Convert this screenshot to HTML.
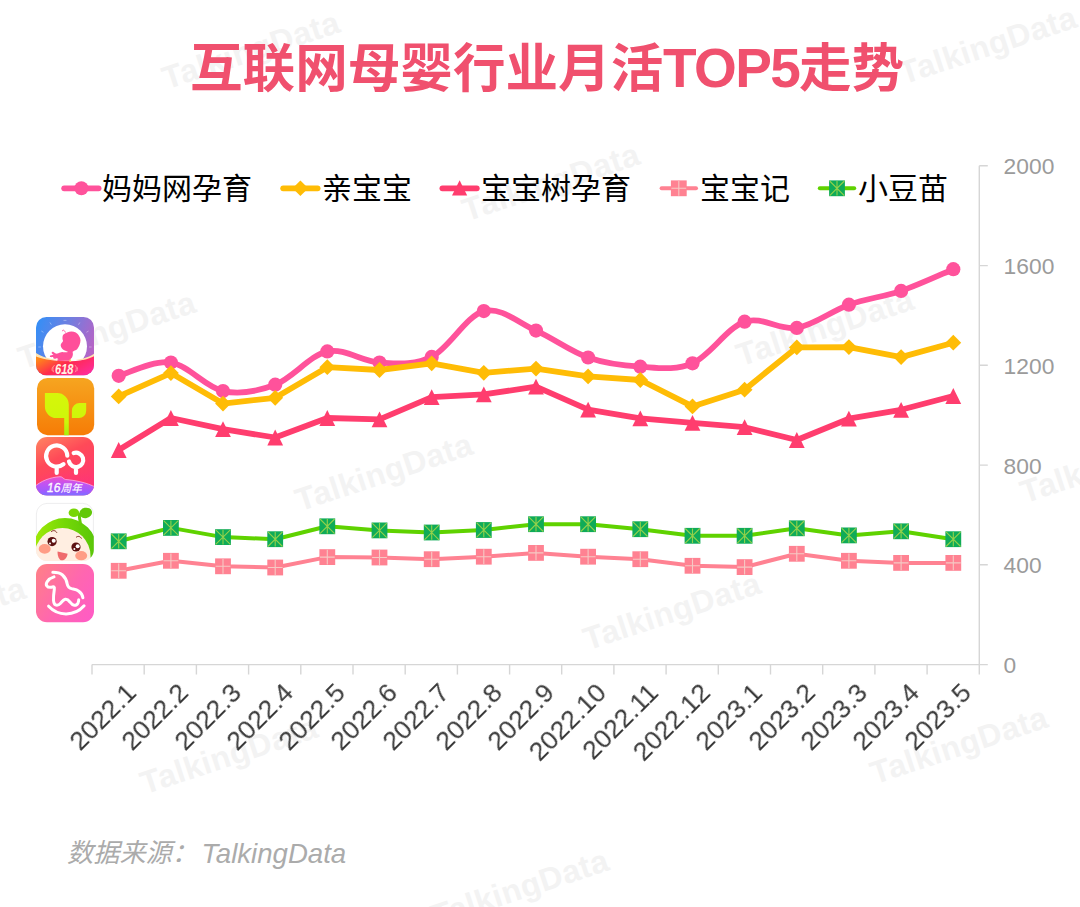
<!DOCTYPE html>
<html lang="zh"><head><meta charset="utf-8"><title>互联网母婴行业月活TOP5走势</title>
<style>
html,body{margin:0;padding:0;background:#fff;width:1080px;height:907px;overflow:hidden}
#page{width:1080px;height:907px;position:relative;overflow:hidden;background:#fff;font-family:"Liberation Sans",sans-serif}
.abs{position:absolute;display:block;overflow:visible}
.wm{position:absolute;width:230px;height:44px;line-height:44px;text-align:center;font-size:32px;font-weight:bold;color:#f3f3f3;transform:rotate(-18.3deg);white-space:nowrap;letter-spacing:.5px}
.top5{position:absolute;left:663px;top:41.2px;font-weight:bold;color:#f0506e;font-size:55px;line-height:55px;height:55px;white-space:nowrap;letter-spacing:-1.6px}
.xl{position:absolute;width:120px;text-align:right;font-size:26.6px;line-height:26.6px;height:26.6px;color:#3a3a3a;transform-origin:100% 100%;transform:rotate(-45deg);white-space:nowrap;will-change:transform}
.yl{position:absolute;left:1003.6px;font-size:22.8px;line-height:26px;height:26px;color:#9b9b9b;white-space:nowrap}
.src{position:absolute;left:201.5px;top:838px;font-size:27.6px;line-height:32px;font-style:italic;color:#ababab;white-space:nowrap}
</style></head><body><div id="page">
<div class="wm" style="left:136px;top:28px">TalkingData</div>
<div class="wm" style="left:873px;top:23px">TalkingData</div>
<div class="wm" style="left:436px;top:160px">TalkingData</div>
<div class="wm" style="left:-8px;top:308px">TalkingData</div>
<div class="wm" style="left:710px;top:305px">TalkingData</div>
<div class="wm" style="left:269px;top:450px">TalkingData</div>
<div class="wm" style="left:994px;top:442px">TalkingData</div>
<div class="wm" style="left:-178px;top:594px">TalkingData</div>
<div class="wm" style="left:557px;top:589px">TalkingData</div>
<div class="wm" style="left:114px;top:733px">TalkingData</div>
<div class="wm" style="left:844px;top:723px">TalkingData</div>
<div class="wm" style="left:405px;top:866px">TalkingData</div>
<svg class="abs" role="img" aria-label="互联网母婴行业月活" width="473.4" height="56.8" viewBox="0 0 473.4 56.8" style="left:189.6px;top:39.4px"><title>互联网母婴行业月活</title><text x="0" y="48.4" font-family="'Liberation Sans','Noto Sans CJK SC',sans-serif" font-weight="bold" font-size="52.6" fill="#f0506e">互联网母婴行业月活</text></svg>
<div class="top5">TOP5</div>
<svg class="abs" role="img" aria-label="走势" width="105.2" height="56.8" viewBox="0 0 105.2 56.8" style="left:798.6px;top:39.4px"><title>走势</title><text x="0" y="48.4" font-family="'Liberation Sans','Noto Sans CJK SC',sans-serif" font-weight="bold" font-size="52.6" fill="#f0506e">走势</text></svg>
<svg class="abs" width="1080" height="907" viewBox="0 0 1080 907" style="left:0;top:0">
<path d="M92 664.6H979.3M979.3 165.8V674.6M979.3 165.8h8.5M979.3 265.6h8.5M979.3 365.3h8.5M979.3 465.1h8.5M979.3 564.8h8.5M979.3 664.6h8.5M92 664.6v10M144.2 664.6v10M196.4 664.6v10M248.6 664.6v10M300.8 664.6v10M353 664.6v10M405.2 664.6v10M457.4 664.6v10M509.6 664.6v10M561.7 664.6v10M613.9 664.6v10M666.1 664.6v10M718.3 664.6v10M770.5 664.6v10M822.7 664.6v10M874.9 664.6v10M927.1 664.6v10" stroke="#d6d6d6" stroke-width="1.4" fill="none"/>
<path d="M118.7 375.8 C127.4 373.6 153.5 359.9 170.9 362.5 C188.2 365.1 205.6 387.4 223 391.1 C240.4 394.8 257.8 391.3 275.2 384.7 C292.6 378.1 310 355.1 327.3 351.4 C344.7 347.7 362.1 361.6 379.5 362.5 C396.9 363.4 414.3 365.5 431.7 356.9 C449 348.3 466.4 315.5 483.8 311.1 C501.2 306.7 518.6 322.9 536 330.6 C553.4 338.3 570.8 351.5 588.1 357.5 C605.5 363.5 622.9 365.7 640.3 366.7 C657.7 367.7 675.1 370.8 692.5 363.3 C709.8 355.8 727.2 327.6 744.6 321.7 C762 315.8 779.4 330.7 796.8 327.9 C814.2 325.1 831.6 310.9 848.9 304.7 C866.3 298.5 883.7 296.8 901.1 290.9 C918.5 285 944.6 272.8 953.3 269.2" stroke="#ff529b" stroke-width="5.8" fill="none" stroke-linecap="round" stroke-linejoin="round"/>
<g fill="#ff529b"><circle cx="118.7" cy="375.8" r="7.1"/><circle cx="170.9" cy="362.5" r="7.1"/><circle cx="223" cy="391.1" r="7.1"/><circle cx="275.2" cy="384.7" r="7.1"/><circle cx="327.3" cy="351.4" r="7.1"/><circle cx="379.5" cy="362.5" r="7.1"/><circle cx="431.7" cy="356.9" r="7.1"/><circle cx="483.8" cy="311.1" r="7.1"/><circle cx="536" cy="330.6" r="7.1"/><circle cx="588.1" cy="357.5" r="7.1"/><circle cx="640.3" cy="366.7" r="7.1"/><circle cx="692.5" cy="363.3" r="7.1"/><circle cx="744.6" cy="321.7" r="7.1"/><circle cx="796.8" cy="327.9" r="7.1"/><circle cx="848.9" cy="304.7" r="7.1"/><circle cx="901.1" cy="290.9" r="7.1"/><circle cx="953.3" cy="269.2" r="7.1"/></g>
<path d="M118.7 396.4 L170.9 373.1 L223 403.6 L275.2 397.8 L327.3 367.2 L379.5 370 L431.7 363.3 L483.8 372.8 L536 368.6 L588.1 376.4 L640.3 380 L692.5 406.4 L744.6 389.7 L796.8 347.4 L848.9 347.1 L901.1 357.1 L953.3 342.7" stroke="#ffbc05" stroke-width="5.8" fill="none" stroke-linecap="round" stroke-linejoin="round"/>
<g fill="#ffbc05"><path d="M110.8 396.4L118.7 388.5L126.6 396.4L118.7 404.3Z"/><path d="M163 373.1L170.9 365.2L178.8 373.1L170.9 381Z"/><path d="M215.1 403.6L223 395.7L230.9 403.6L223 411.5Z"/><path d="M267.3 397.8L275.2 389.9L283.1 397.8L275.2 405.7Z"/><path d="M319.4 367.2L327.3 359.3L335.2 367.2L327.3 375.1Z"/><path d="M371.6 370L379.5 362.1L387.4 370L379.5 377.9Z"/><path d="M423.8 363.3L431.7 355.4L439.6 363.3L431.7 371.2Z"/><path d="M475.9 372.8L483.8 364.9L491.7 372.8L483.8 380.7Z"/><path d="M528.1 368.6L536 360.7L543.9 368.6L536 376.5Z"/><path d="M580.2 376.4L588.1 368.5L596 376.4L588.1 384.3Z"/><path d="M632.4 380L640.3 372.1L648.2 380L640.3 387.9Z"/><path d="M684.6 406.4L692.5 398.5L700.4 406.4L692.5 414.3Z"/><path d="M736.7 389.7L744.6 381.8L752.5 389.7L744.6 397.6Z"/><path d="M788.9 347.4L796.8 339.5L804.7 347.4L796.8 355.3Z"/><path d="M841 347.1L848.9 339.2L856.8 347.1L848.9 355Z"/><path d="M893.2 357.1L901.1 349.2L909 357.1L901.1 365Z"/><path d="M945.4 342.7L953.3 334.8L961.2 342.7L953.3 350.6Z"/></g>
<path d="M118.7 450 L170.9 418 L223 429.2 L275.2 437.5 L327.3 418 L379.5 419.4 L431.7 397.2 L483.8 394.4 L536 386.7 L588.1 409.7 L640.3 418.3 L692.5 422.8 L744.6 427.2 L796.8 440 L848.9 418.7 L901.1 409.8 L953.3 396" stroke="#ff3d6e" stroke-width="5.8" fill="none" stroke-linecap="round" stroke-linejoin="round"/>
<g fill="#ff3d6e"><path d="M118.7 442.1L126.6 457.9L110.8 457.9Z"/><path d="M170.9 410.1L178.8 425.9L163 425.9Z"/><path d="M223 421.3L230.9 437.1L215.1 437.1Z"/><path d="M275.2 429.6L283.1 445.4L267.3 445.4Z"/><path d="M327.3 410.1L335.2 425.9L319.4 425.9Z"/><path d="M379.5 411.5L387.4 427.3L371.6 427.3Z"/><path d="M431.7 389.3L439.6 405.1L423.8 405.1Z"/><path d="M483.8 386.5L491.7 402.3L475.9 402.3Z"/><path d="M536 378.8L543.9 394.6L528.1 394.6Z"/><path d="M588.1 401.8L596 417.6L580.2 417.6Z"/><path d="M640.3 410.4L648.2 426.2L632.4 426.2Z"/><path d="M692.5 414.9L700.4 430.7L684.6 430.7Z"/><path d="M744.6 419.3L752.5 435.1L736.7 435.1Z"/><path d="M796.8 432.1L804.7 447.9L788.9 447.9Z"/><path d="M848.9 410.8L856.8 426.6L841 426.6Z"/><path d="M901.1 401.9L909 417.7L893.2 417.7Z"/><path d="M953.3 388.1L961.2 403.9L945.4 403.9Z"/></g>
<path d="M118.7 570.8 L170.9 560.8 L223 566.3 L275.2 567.5 L327.3 557.1 L379.5 557.5 L431.7 559.2 L483.8 556.7 L536 552.9 L588.1 556.7 L640.3 559.2 L692.5 565.8 L744.6 567.1 L796.8 553.8 L848.9 560.8 L901.1 562.9 L953.3 562.9" stroke="#ff8292" stroke-width="4" fill="none" stroke-linecap="round" stroke-linejoin="round"/>
<g><rect x="110.8" y="562.9" width="15.8" height="15.8" fill="#ff8292"/><path d="M118.7 563.4V578.2M111.3 570.8H126.1" stroke="#f6c9c4" stroke-width="1.1" fill="none"/><rect x="163" y="552.9" width="15.8" height="15.8" fill="#ff8292"/><path d="M170.9 553.4V568.2M163.5 560.8H178.3" stroke="#f6c9c4" stroke-width="1.1" fill="none"/><rect x="215.1" y="558.4" width="15.8" height="15.8" fill="#ff8292"/><path d="M223 558.9V573.7M215.6 566.3H230.4" stroke="#f6c9c4" stroke-width="1.1" fill="none"/><rect x="267.3" y="559.6" width="15.8" height="15.8" fill="#ff8292"/><path d="M275.2 560.1V574.9M267.8 567.5H282.6" stroke="#f6c9c4" stroke-width="1.1" fill="none"/><rect x="319.4" y="549.2" width="15.8" height="15.8" fill="#ff8292"/><path d="M327.3 549.7V564.5M319.9 557.1H334.7" stroke="#f6c9c4" stroke-width="1.1" fill="none"/><rect x="371.6" y="549.6" width="15.8" height="15.8" fill="#ff8292"/><path d="M379.5 550.1V564.9M372.1 557.5H386.9" stroke="#f6c9c4" stroke-width="1.1" fill="none"/><rect x="423.8" y="551.3" width="15.8" height="15.8" fill="#ff8292"/><path d="M431.7 551.8V566.6M424.3 559.2H439.1" stroke="#f6c9c4" stroke-width="1.1" fill="none"/><rect x="475.9" y="548.8" width="15.8" height="15.8" fill="#ff8292"/><path d="M483.8 549.3V564.1M476.4 556.7H491.2" stroke="#f6c9c4" stroke-width="1.1" fill="none"/><rect x="528.1" y="545" width="15.8" height="15.8" fill="#ff8292"/><path d="M536 545.5V560.3M528.6 552.9H543.4" stroke="#f6c9c4" stroke-width="1.1" fill="none"/><rect x="580.2" y="548.8" width="15.8" height="15.8" fill="#ff8292"/><path d="M588.1 549.3V564.1M580.7 556.7H595.5" stroke="#f6c9c4" stroke-width="1.1" fill="none"/><rect x="632.4" y="551.3" width="15.8" height="15.8" fill="#ff8292"/><path d="M640.3 551.8V566.6M632.9 559.2H647.7" stroke="#f6c9c4" stroke-width="1.1" fill="none"/><rect x="684.6" y="557.9" width="15.8" height="15.8" fill="#ff8292"/><path d="M692.5 558.4V573.2M685.1 565.8H699.9" stroke="#f6c9c4" stroke-width="1.1" fill="none"/><rect x="736.7" y="559.2" width="15.8" height="15.8" fill="#ff8292"/><path d="M744.6 559.7V574.5M737.2 567.1H752" stroke="#f6c9c4" stroke-width="1.1" fill="none"/><rect x="788.9" y="545.9" width="15.8" height="15.8" fill="#ff8292"/><path d="M796.8 546.4V561.2M789.4 553.8H804.2" stroke="#f6c9c4" stroke-width="1.1" fill="none"/><rect x="841" y="552.9" width="15.8" height="15.8" fill="#ff8292"/><path d="M848.9 553.4V568.2M841.5 560.8H856.3" stroke="#f6c9c4" stroke-width="1.1" fill="none"/><rect x="893.2" y="555" width="15.8" height="15.8" fill="#ff8292"/><path d="M901.1 555.5V570.3M893.7 562.9H908.5" stroke="#f6c9c4" stroke-width="1.1" fill="none"/><rect x="945.4" y="555" width="15.8" height="15.8" fill="#ff8292"/><path d="M953.3 555.5V570.3M945.9 562.9H960.7" stroke="#f6c9c4" stroke-width="1.1" fill="none"/></g>
<path d="M118.7 541.3 L170.9 527.9 L223 537.1 L275.2 539.2 L327.3 526.3 L379.5 530.4 L431.7 532.5 L483.8 530 L536 524.2 L588.1 524.2 L640.3 529.2 L692.5 535.8 L744.6 535.8 L796.8 528.3 L848.9 535.4 L901.1 531.3 L953.3 539.2" stroke="#5fd200" stroke-width="4" fill="none" stroke-linecap="round" stroke-linejoin="round"/>
<g><rect x="110.8" y="533.4" width="15.8" height="15.8" fill="#0fab58"/><path d="M118.7 534V548.6M111.4 534L126 548.6M126 534L111.4 548.6" stroke="#93d14a" stroke-width="1.1" fill="none"/><rect x="163" y="520" width="15.8" height="15.8" fill="#0fab58"/><path d="M170.9 520.6V535.2M163.6 520.6L178.2 535.2M178.2 520.6L163.6 535.2" stroke="#93d14a" stroke-width="1.1" fill="none"/><rect x="215.1" y="529.2" width="15.8" height="15.8" fill="#0fab58"/><path d="M223 529.8V544.4M215.7 529.8L230.3 544.4M230.3 529.8L215.7 544.4" stroke="#93d14a" stroke-width="1.1" fill="none"/><rect x="267.3" y="531.3" width="15.8" height="15.8" fill="#0fab58"/><path d="M275.2 531.9V546.5M267.9 531.9L282.5 546.5M282.5 531.9L267.9 546.5" stroke="#93d14a" stroke-width="1.1" fill="none"/><rect x="319.4" y="518.4" width="15.8" height="15.8" fill="#0fab58"/><path d="M327.3 519V533.6M320 519L334.6 533.6M334.6 519L320 533.6" stroke="#93d14a" stroke-width="1.1" fill="none"/><rect x="371.6" y="522.5" width="15.8" height="15.8" fill="#0fab58"/><path d="M379.5 523.1V537.7M372.2 523.1L386.8 537.7M386.8 523.1L372.2 537.7" stroke="#93d14a" stroke-width="1.1" fill="none"/><rect x="423.8" y="524.6" width="15.8" height="15.8" fill="#0fab58"/><path d="M431.7 525.2V539.8M424.4 525.2L439 539.8M439 525.2L424.4 539.8" stroke="#93d14a" stroke-width="1.1" fill="none"/><rect x="475.9" y="522.1" width="15.8" height="15.8" fill="#0fab58"/><path d="M483.8 522.7V537.3M476.5 522.7L491.1 537.3M491.1 522.7L476.5 537.3" stroke="#93d14a" stroke-width="1.1" fill="none"/><rect x="528.1" y="516.3" width="15.8" height="15.8" fill="#0fab58"/><path d="M536 516.9V531.5M528.7 516.9L543.3 531.5M543.3 516.9L528.7 531.5" stroke="#93d14a" stroke-width="1.1" fill="none"/><rect x="580.2" y="516.3" width="15.8" height="15.8" fill="#0fab58"/><path d="M588.1 516.9V531.5M580.8 516.9L595.4 531.5M595.4 516.9L580.8 531.5" stroke="#93d14a" stroke-width="1.1" fill="none"/><rect x="632.4" y="521.3" width="15.8" height="15.8" fill="#0fab58"/><path d="M640.3 521.9V536.5M633 521.9L647.6 536.5M647.6 521.9L633 536.5" stroke="#93d14a" stroke-width="1.1" fill="none"/><rect x="684.6" y="527.9" width="15.8" height="15.8" fill="#0fab58"/><path d="M692.5 528.5V543.1M685.2 528.5L699.8 543.1M699.8 528.5L685.2 543.1" stroke="#93d14a" stroke-width="1.1" fill="none"/><rect x="736.7" y="527.9" width="15.8" height="15.8" fill="#0fab58"/><path d="M744.6 528.5V543.1M737.3 528.5L751.9 543.1M751.9 528.5L737.3 543.1" stroke="#93d14a" stroke-width="1.1" fill="none"/><rect x="788.9" y="520.4" width="15.8" height="15.8" fill="#0fab58"/><path d="M796.8 521V535.6M789.5 521L804.1 535.6M804.1 521L789.5 535.6" stroke="#93d14a" stroke-width="1.1" fill="none"/><rect x="841" y="527.5" width="15.8" height="15.8" fill="#0fab58"/><path d="M848.9 528.1V542.7M841.6 528.1L856.2 542.7M856.2 528.1L841.6 542.7" stroke="#93d14a" stroke-width="1.1" fill="none"/><rect x="893.2" y="523.4" width="15.8" height="15.8" fill="#0fab58"/><path d="M901.1 524V538.6M893.8 524L908.4 538.6M908.4 524L893.8 538.6" stroke="#93d14a" stroke-width="1.1" fill="none"/><rect x="945.4" y="531.3" width="15.8" height="15.8" fill="#0fab58"/><path d="M953.3 531.9V546.5M946 531.9L960.6 546.5M960.6 531.9L946 546.5" stroke="#93d14a" stroke-width="1.1" fill="none"/></g>
<path d="M64.2 188.3H98.6" stroke="#ff529b" stroke-width="5.8" stroke-linecap="round"/><g fill="#ff529b"><circle cx="81.4" cy="188.3" r="7.0"/></g>
<path d="M283.2 188.3H317.6" stroke="#ffbc05" stroke-width="5.8" stroke-linecap="round"/><g fill="#ffbc05"><path d="M292.6 188.3L300.4 180.5L308.2 188.3L300.4 196.1Z"/></g>
<path d="M442.4 188.3H476.8" stroke="#ff3d6e" stroke-width="5.8" stroke-linecap="round"/><g fill="#ff3d6e"><path d="M459.6 180.2L467.2 195.4L452 195.4Z"/></g>
<path d="M661.6 188.3H696" stroke="#ff8292" stroke-width="4" stroke-linecap="round"/><rect x="670.9" y="180.4" width="15.8" height="15.8" fill="#ff8292"/><path d="M678.8 180.9V195.7M671.4 188.3H686.2" stroke="#f6c9c4" stroke-width="1.1" fill="none"/>
<path d="M819.8 188.3H854.2" stroke="#5fd200" stroke-width="4" stroke-linecap="round"/><rect x="829.1" y="180.4" width="15.8" height="15.8" fill="#0fab58"/><path d="M837 181V195.6M829.7 181L844.3 195.6M844.3 181L829.7 195.6" stroke="#93d14a" stroke-width="1.1" fill="none"/>
</svg>
<svg class="abs" role="img" aria-label="妈妈网孕育" width="150" height="32.4" viewBox="0 0 150 32.4" style="left:102.3px;top:170.9px"><title>妈妈网孕育</title><text x="0" y="27.6" font-family="'Liberation Sans','Noto Sans CJK SC',sans-serif" font-size="30" fill="#000">妈妈网孕育</text></svg>
<svg class="abs" role="img" aria-label="亲宝宝" width="90" height="32.4" viewBox="0 0 90 32.4" style="left:321.5px;top:170.9px"><title>亲宝宝</title><text x="0" y="27.6" font-family="'Liberation Sans','Noto Sans CJK SC',sans-serif" font-size="30" fill="#000">亲宝宝</text></svg>
<svg class="abs" role="img" aria-label="宝宝树孕育" width="150" height="32.4" viewBox="0 0 150 32.4" style="left:480.5px;top:170.9px"><title>宝宝树孕育</title><text x="0" y="27.6" font-family="'Liberation Sans','Noto Sans CJK SC',sans-serif" font-size="30" fill="#000">宝宝树孕育</text></svg>
<svg class="abs" role="img" aria-label="宝宝记" width="90" height="32.4" viewBox="0 0 90 32.4" style="left:699.5px;top:170.9px"><title>宝宝记</title><text x="0" y="27.6" font-family="'Liberation Sans','Noto Sans CJK SC',sans-serif" font-size="30" fill="#000">宝宝记</text></svg>
<svg class="abs" role="img" aria-label="小豆苗" width="90" height="32.4" viewBox="0 0 90 32.4" style="left:857.5px;top:170.9px"><title>小豆苗</title><text x="0" y="27.6" font-family="'Liberation Sans','Noto Sans CJK SC',sans-serif" font-size="30" fill="#000">小豆苗</text></svg>
<div class="yl" style="top:153.2px">2000</div>
<div class="yl" style="top:253px">1600</div>
<div class="yl" style="top:352.7px">1200</div>
<div class="yl" style="top:452.5px">800</div>
<div class="yl" style="top:552.2px">400</div>
<div class="yl" style="top:652px">0</div>
<div class="xl" style="left:21.1px;top:671.2px">2022.1</div>
<div class="xl" style="left:73.3px;top:671.2px">2022.2</div>
<div class="xl" style="left:125.5px;top:671.2px">2022.3</div>
<div class="xl" style="left:177.7px;top:671.2px">2022.4</div>
<div class="xl" style="left:229.9px;top:671.2px">2022.5</div>
<div class="xl" style="left:282.1px;top:671.2px">2022.6</div>
<div class="xl" style="left:334.3px;top:671.2px">2022.7</div>
<div class="xl" style="left:386.5px;top:671.2px">2022.8</div>
<div class="xl" style="left:438.6px;top:671.2px">2022.9</div>
<div class="xl" style="left:490.8px;top:671.2px">2022.10</div>
<div class="xl" style="left:543px;top:671.2px">2022.11</div>
<div class="xl" style="left:595.2px;top:671.2px">2022.12</div>
<div class="xl" style="left:647.4px;top:671.2px">2023.1</div>
<div class="xl" style="left:699.6px;top:671.2px">2023.2</div>
<div class="xl" style="left:751.8px;top:671.2px">2023.3</div>
<div class="xl" style="left:804px;top:671.2px">2023.4</div>
<div class="xl" style="left:856.2px;top:671.2px">2023.5</div>
<svg class="abs" role="img" aria-label="妈妈网孕育" width="58" height="58.4" viewBox="0 0 58 58.4" style="left:36.2px;top:316.9px"><title>妈妈网孕育</title>
<defs>
<linearGradient id="a1" x1="0" y1="0.1" x2="1" y2="0.45"><stop offset="0" stop-color="#338ff7"/><stop offset=".5" stop-color="#6f7fe0"/><stop offset="1" stop-color="#b464c6"/></linearGradient>
<linearGradient id="a2" x1="0" y1="0.2" x2="1" y2="0.8"><stop offset="0" stop-color="#ff8a18"/><stop offset=".45" stop-color="#ff2a4c"/><stop offset="1" stop-color="#ff2c9c"/></linearGradient>
<clipPath id="ac"><rect width="58" height="58.4" rx="10.5"/></clipPath>
</defs>
<g clip-path="url(#ac)">
<rect width="58" height="58.4" fill="url(#a1)"/>
<g stroke="#fff" stroke-opacity=".45" stroke-width=".8" fill="none"><path d="M14 5.5l1.3 2.2M43.8 5.5l-1.3 2.2M5.3 14l2.2 1.3M52.6 14l-2.2 1.3M27.5 3.4h3M2.3 30h2.6M53 30h2.6"/></g>
<circle cx="29" cy="29.3" r="22" fill="#fff"/>
<path fill="#ff4f9a" d="M35.5 14.4C37 14.4 38.5 14.8 39.8 15.6C41.1 16.4 42.4 17.9 43.2 19.2C44 20.5 44.5 22.1 44.5 23.6C44.5 25.1 44 26.6 43.5 28C43 29.4 42.2 30.9 41.3 31.9C40.4 32.9 38.7 33.4 37.9 33.9C37.1 34.4 36.9 34.2 36.7 34.8C36.5 35.3 37 36.3 36.9 37.2C36.8 38.1 36.6 39.2 36.2 40.1C35.8 41 34.8 41.8 34.3 42.8C33.8 43.8 35.5 45.5 33.5 46C31.4 46.5 24 46.5 22 46C20 45.5 21.7 43.6 21.6 42.8C21.5 42 21.8 41.4 21.4 41.2C21 41 19.7 41.8 19 41.8C18.3 41.8 17.3 41.4 17 41.1C16.7 40.8 17.7 40.4 17.3 40.2C16.9 40 15.2 40.3 14.6 40.1C14 39.9 13.8 39.2 13.9 38.9C14 38.6 14.5 38.4 15.1 38.2C15.7 38 17.2 38.1 17.3 37.7C17.4 37.3 15.8 36.5 15.6 36C15.4 35.5 15.9 35 16.3 34.9C16.7 34.8 17.2 35 17.8 35.3C18.4 35.6 19.1 36.5 19.9 36.6C20.7 36.8 21.7 36.4 22.4 36.2C23.1 36 23.7 35.7 24.3 35.5C24.9 35.3 25.4 34.9 26.2 34.9C27 34.9 28.3 35.3 29.2 35.3C30.1 35.3 31.4 35.1 31.6 34.9C31.8 34.7 31.2 34.6 30.6 34.3C30 34 29 33.8 28.2 33.3C27.4 32.8 26.6 32.1 26 31.4C25.4 30.7 25 29.6 24.8 28.9C24.6 28.2 24.6 27.8 25 27C25.4 26.2 26.8 25 27 24.1C27.2 23.2 26.5 22.8 26.5 21.7C26.5 20.6 26.4 18.9 27.2 17.8C28 16.8 29.7 16 31.1 15.4C32.5 14.8 34 14.4 35.5 14.4Z"/>
<path d="M29.300 15.200C28.800 14 28.100 13.200 27.100 13.100 26.700 13.100 26.500 13.400 26.500 13.800" stroke="#ff4f9a" stroke-width=".9" fill="none" stroke-linecap="round"/>
<path fill="#ffe3b0" d="M0 35.900C5 39.500 14 42.800 29 43.300 44 43.400 52 40.800 58 36.700V43H0z"/>
<path fill="url(#a2)" d="M0 39.600C5 41.800 14 43.900 29 44.200 44 44.300 52 42.300 58 39.200V58.400H0z"/>
<path fill="#ffcf5c" d="M33.600 42.900c.3-1 .9-1.500 1.100-.5.200.900.300 1.800 0 2.600h-1.300c-.2-.7 0-1.400.2-2.100z"/>
<path d="M18.300 48.400c-1.500 1.900-1.700 4.600-.5 6.900M39.300 48.400c1.400 2.100 1.300 4.800-.3 6.900M16.700 50c-.8 1.200-.9 2.600-.4 4M41 50.100c.7 1.200.6 2.700-.1 3.900" stroke="#ffe9cf" stroke-opacity=".7" stroke-width=".7" fill="none" stroke-linecap="round" stroke-dasharray="1.600 1"/>
<text transform="translate(28.200 57.300) scale(.76 1)" text-anchor="middle" font-family="Liberation Sans, sans-serif" font-weight="bold" font-style="italic" font-size="14.500" fill="#fff4e2">618</text>
</g></svg>
<svg class="abs" role="img" aria-label="亲宝宝" width="57.2" height="57.2" viewBox="0 0 57.2 57.2" style="left:36.7px;top:377.7px"><title>亲宝宝</title>
<defs><linearGradient id="b1" x1="0" y1="0" x2="0" y2="1"><stop offset="0" stop-color="#f6a520"/><stop offset="1" stop-color="#f67c06"/></linearGradient>
<linearGradient id="b2" x1="0" y1="0" x2="0" y2="1"><stop offset="0" stop-color="#d6f60a"/><stop offset=".7" stop-color="#cdf60a"/><stop offset="1" stop-color="#a6f00a"/></linearGradient></defs>
<rect width="57.2" height="57.2" rx="10.500" fill="url(#b1)"/>
<path fill="url(#b2)" d="M7.900 15H20.200A11.600 11.600 0 0 1 31.800 26.600V57.200H27.200V40.100H19.400A11.500 11.500 0 0 1 7.900 28.600ZM34.900 40.100V32.800A7.700 7.700 0 0 1 42.600 25.100H49.200V32.800A7.300 7.300 0 0 1 41.900 40.100Z"/>
</svg>
<svg class="abs" role="img" aria-label="宝宝树孕育 16周年" width="58" height="58.5" viewBox="0 0 58 58.5" style="left:36.3px;top:437.2px"><title>宝宝树孕育 16周年</title>
<defs><linearGradient id="c1" x1="0.1" y1="0" x2="0.6" y2="1"><stop offset="0" stop-color="#ff8060"/><stop offset=".4" stop-color="#ff4a58"/><stop offset="1" stop-color="#ff3574"/></linearGradient>
<linearGradient id="c2" x1="0" y1="0" x2="0" y2="1"><stop offset="0" stop-color="#ef4fc8"/><stop offset=".35" stop-color="#c253f2"/><stop offset=".75" stop-color="#9b5cff"/><stop offset="1" stop-color="#6f7bff"/></linearGradient>
<radialGradient id="c3" cx=".5" cy="1" r=".75"><stop offset="0" stop-color="#ff2d8a" stop-opacity=".55"/><stop offset="1" stop-color="#ff2d8a" stop-opacity="0"/></radialGradient>
<clipPath id="cc"><rect width="58" height="58.5" rx="11"/></clipPath></defs>
<g clip-path="url(#cc)">
<rect width="58" height="58.5" fill="url(#c1)"/>
<rect y="25" width="58" height="33.500" fill="url(#c3)"/>
<path fill="url(#c2)" stroke="#ffc4f2" stroke-opacity=".75" stroke-width=".9" d="M-2 50C5 44 14 40.300 24 39.700 26.500 39.500 27.200 41.900 29.500 42.500 39 43.300 51 45.500 60 50.500V60H-2Z"/>
<path d="M27.500 27.200A10.600 10.600 0 1 1 31.300 18.700M20.700 29.800V36M37.700 16.100A7.200 7.200 0 1 1 33 24.500M40 30.100V36" stroke="#fff" stroke-width="4.200" stroke-linecap="round" fill="none"/>
<text x="11" y="55.300" font-family="Liberation Sans, sans-serif" font-style="italic" font-size="12" fill="#fff" fill-opacity=".95" stroke="#fff" stroke-width=".35">16</text>
<text transform="translate(24.600 54.900) skewX(-14)" x="0" y="0" font-family="'Liberation Sans','Noto Sans CJK SC',sans-serif" font-weight="500" font-size="10.6" fill="#fff" fill-opacity=".95">周年</text>
</g></svg>
<svg class="abs" role="img" aria-label="小豆苗" width="57.8" height="57.9" viewBox="0 0 57.8 57.9" style="left:36.3px;top:502.8px"><title>小豆苗</title>
<defs><linearGradient id="d1" x1="0" y1="0" x2="1" y2="0"><stop offset="0" stop-color="#a2ea08"/><stop offset=".5" stop-color="#74d806"/><stop offset="1" stop-color="#58c40a"/></linearGradient>
<clipPath id="dc"><rect width="57.8" height="57.9" rx="11"/></clipPath></defs>
<rect x=".4" y=".4" width="57" height="57.100" rx="10.600" fill="#fff" stroke="#e9e9ea" stroke-width=".8"/>
<g clip-path="url(#dc)">
<path d="M-3 47A32 32 0 0 1 61 47V54.500H29V47Z" fill="url(#d1)"/>
<path d="M44.600 21.500C44 18.300 43.300 15.500 43.300 11.500" stroke="#66cc08" stroke-width="3" fill="none" stroke-linecap="round"/>
<ellipse cx="37.900" cy="9.700" rx="5.300" ry="4.300" fill="#78d606"/>
<ellipse cx="49.700" cy="9.900" rx="6.400" ry="5.200" transform="rotate(-12 49.700 9.900)" fill="#62c808"/>
<circle cx="26.500" cy="53" r="28" fill="#ffeee1"/>
<ellipse cx="8.700" cy="45.900" rx="6" ry="4.800" fill="#ff9d86"/>
<ellipse cx="45.200" cy="52.700" rx="6" ry="4.600" fill="#ff9d86"/>
<circle cx="16.100" cy="38.600" r="4.600" fill="#5d1212"/><circle cx="17.700" cy="37.700" r="2" fill="#fff"/><circle cx="14" cy="40.400" r="1" fill="#fff"/>
<circle cx="40" cy="44" r="4.600" fill="#5d1212"/><circle cx="41.700" cy="43.300" r="2" fill="#fff"/><circle cx="38.400" cy="46" r="1" fill="#fff"/>
<path d="M15.300 28.600C17 26.900 19.500 27.300 20.700 29.400M40.300 34.200C41.900 32.700 44.200 33.200 45.300 35.200" stroke="#7a2a1a" stroke-width="1" fill="none" stroke-linecap="round"/>
<path d="M21.600 48.400 31.600 50.700C31.300 54.300 28.800 57.500 25.700 57.300 23 57.100 21.300 52.500 21.600 48.400Z" fill="#ef6a6c"/>
</g></svg>
<svg class="abs" role="img" aria-label="宝宝记" width="58" height="58.2" viewBox="0 0 58 58.2" style="left:36.3px;top:564px"><title>宝宝记</title>
<defs><linearGradient id="e1" x1="0" y1="0.15" x2="1" y2="0.85"><stop offset="0" stop-color="#ff7e8a"/><stop offset=".55" stop-color="#ff66b0"/><stop offset="1" stop-color="#ff5cc4"/></linearGradient></defs>
<rect width="58" height="58.2" rx="11" fill="url(#e1)"/>
<g stroke="#fff" stroke-width="3" fill="none" stroke-linecap="round" stroke-linejoin="round">
<path d="M16.800 8.300C21 8.300 24.200 9 26.500 11 29.200 13.300 30.600 16.400 31.200 20 31.700 23 33.600 24.300 36.300 24.900 38.600 25.400 40.800 25.700 42.800 27.200 45 28.800 46.500 31 46.900 33.700"/>
<path d="M18 12.900C15.200 13.800 12.800 15.300 11.400 17.300 10.300 18.900 9.900 20.600 10.800 21.800 11.700 23.100 13.400 23.500 15.200 23.300 16.400 23.100 17.400 22.500 18 22.900 18.700 23.400 18.500 24.400 18.300 25.600 17.800 28.900 17.300 32.800 17.500 36.400 17.700 39.200 18.800 41.200 20.900 41.200 22.600 41.200 23.600 40.300 24.600 39.200 26.100 37.600 27.200 35.600 29.300 35.200 31.300 34.800 32.700 36.400 33.900 38 35.100 39.600 36.200 41.200 38.200 41.300 40.300 41.400 41.500 40.200 42.100 38.800 42.500 37.800 42.700 36.700 42.700 35.700"/>
<path d="M12.600 42.200C17 46.900 23 49.800 29.900 49.900 37 50 43.500 47 48.100 41.800"/>
</g></svg>
<svg class="abs" role="img" aria-label="数据来源：" width="139" height="28.3" viewBox="0 0 139 28.3" style="left:67.2px;top:838.2px"><title>数据来源：</title><text transform="translate(0 24.1) skewX(-14)" x="0" y="0" font-family="'Liberation Sans','Noto Sans CJK SC',sans-serif" font-size="26.2" fill="#ababab">数据来源：</text></svg>
<div class="src">TalkingData</div>
</div></body></html>
